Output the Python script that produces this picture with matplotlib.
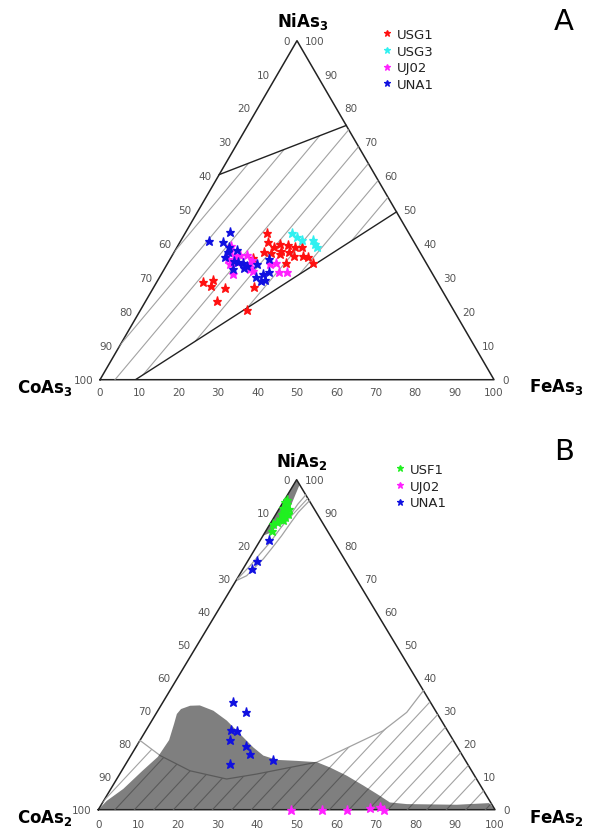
import numpy as np
import matplotlib.pyplot as plt
from matplotlib.patches import Polygon

W, H = 595, 829
S3 = np.sqrt(3) / 2

# compositions in %, (NiAs, FeAs); CoAs is the remainder
# --- panel A (triarsenides)
usg1_ni = [43.2, 40.7, 39.1, 37.6, 37.3, 40.0, 38.1, 39.7, 39.2, 37.6, 36.6, 39.1, 36.6,
           36.1, 34.4, 34.3, 35.9, 27.4, 28.7, 29.5, 27.7, 27.1, 23.2, 20.5, 37.1]
usg1_fe = [20.7, 22.2, 24.5, 22.8, 24.7, 25.7, 26.8, 27.9, 29.9, 29.2, 30.9, 31.7, 33.1,
           34.7, 36.8, 30.0, 20.9, 25.4, 11.8, 13.9, 14.2, 18.2, 18.0, 27.0, 27.2]
usg3_ni = [43.3, 42.0, 41.2, 41.2, 39.1, 40.0]
usg3_fe = [27.1, 28.9, 30.6, 33.5, 35.5, 34.6]
uj02a_ni = [39.5, 37.9, 36.6, 36.8, 36.8, 35.4, 35.6, 34.1, 31.2, 32.7, 32.2, 34.1, 34.3,
            31.9, 31.7, 34.6, 34.4]
uj02a_fe = [13.6, 14.1, 16.0, 17.1, 18.8, 20.8, 14.8, 15.9, 18.1, 21.8, 22.8, 26.2, 27.6,
            29.4, 31.6, 17.4, 20.9]
una1a_ni = [40.8, 43.7, 40.5, 39.1, 38.3, 36.1, 35.1, 32.7, 34.6, 34.4, 33.0, 34.1, 30.2,
            29.2, 29.5, 31.7, 35.6, 37.6, 33.6, 31.2]
una1a_fe = [7.3, 11.2, 11.0, 13.3, 15.6, 13.7, 16.5, 17.4, 17.8, 19.0, 20.0, 22.8, 24.5,
            26.2, 27.1, 27.1, 25.2, 13.8, 20.4, 25.8]
fieldA_ni = [60.5, 0, 0, 49.5, 75]
fieldA_fe = [0, 0, 9, 50.5, 25]

# --- panel B (diarsenides)
usf1_ni = [93.2, 92.6, 91.1, 89.6, 88.6, 89.6, 88.1, 87.1, 86.6, 84.5, 91.3, 90.6, 87.9, 93.9]
usf1_fe = [0.4, 1.2, 2.6, 3.1, 2.8, 1.4, 1.75, 1.45, 0.8, 1.45, 0.95, 2.0, 2.55, 0.65]
uj02b_ni = [0, 0, 0, 0.6, 0.8, 0]
uj02b_fe = [48.6, 56.5, 62.8, 68.3, 70.6, 71.9]
una1b_ni = [81.8, 75.3, 72.9, 32.7, 29.5, 24.2, 23.8, 21.1, 19.2, 16.8, 13.8, 15.1]
una1b_fe = [2.2, 2.45, 2.3, 17.5, 22.5, 21.4, 23.1, 22.6, 27.6, 29.9, 26.3, 36.4]

gray_ni = [0, 2.7, 6.3, 11.7, 16.0, 21.1, 26.0, 29.0, 30.5, 31.5, 31.6, 30.0, 27.0, 22.9,
           18.9, 16.4, 15.1, 14.8, 14.4, 12.8, 10.3, 7.3, 4.2, 2.2, 1.7, 1.5, 2.0, 0]
gray_fe = [0, 0.8, 3.15, 5.2, 7.0, 7.3, 6.1, 5.3, 5.6, 7.4, 9.8, 14.0, 18.9, 24.3, 29.6,
           33.4, 37.4, 42.6, 47.9, 52.0, 57.5, 63.2, 68.9, 72.4, 76.9, 89.6, 97.5, 100]
band_ni = [100, 98.5, 92, 87, 84, 83]
band_fe = [0, 1.5, 2.5, 2.5, 1.5, 0]
curve_ni = [21.0, 16.4, 11.8, 9.3, 10.8, 12.8, 14.4, 18.7, 23.9, 29.5, 36.1]
curve_fe = [0, 7.4, 17.2, 27.7, 34.5, 41.9, 47.9, 53.3, 59.8, 63.0, 63.9]
topU_ni = [95.4, 92.6, 89.1, 85.1, 81.0, 77.5, 73.9, 69.9]
topU_fe = [4.6, 4.0, 3.75, 3.25, 2.8, 2.0, 1.3, 0.1]
topL_ni = [93.6, 92.0, 90.1, 86.6, 83.0, 79.3, 76.0, 73.5, 70.9, 69.6]
topL_fe = [6.4, 5.9, 5.35, 5.0, 4.7, 4.15, 3.6, 2.75, 1.95, 0.3]

ticks = list(range(0, 101, 10))


def xy(ni, fe):
    ni = np.asarray(ni, float) / 100
    fe = np.asarray(fe, float) / 100
    return fe + ni / 2, ni * S3


def place(l, t, r, b):
    return [l / W, 1 - b / H, (r - l) / W, (b - t) / H]


def frame(ax, dy):
    ax.set_xlim(0, 1)
    ax.set_ylim(0, S3)
    ax.axis('off')
    ax.plot([0, 1, 0.5, 0], [0, 0, S3, 0], color='#222222', lw=1.1, clip_on=False)
    kw = dict(textcoords='offset pixels', fontsize=7.5, color='#555555', va='center')
    for t in ticks:
        ax.annotate(str(t), xy(0, t), xytext=(0, -dy), ha='center', **kw)
        ax.annotate(str(t), xy(100 - t, 0), xytext=(-7, 0), ha='right', **kw)
        ax.annotate(str(t), xy(t, 100 - t), xytext=(8, 0), ha='left', **kw)


def hatch(ax, ni, fe, angle, step, start, color='#a2a2a2'):
    patch = Polygon(np.column_stack(xy(ni, fe)), closed=True, fc='none', ec='none')
    ax.add_patch(patch)
    bb = ax.get_position()
    sx, sy = bb.width * W, bb.height * H / S3
    a = np.radians(angle)
    dx, dy = np.cos(a) / sx, np.sin(a) / sy
    L = 900
    for k in range(-45, 45):
        x0 = start + k * step / sx
        ln, = ax.plot([x0 - L * dx, x0 + L * dx], [-L * dy, L * dy], color=color, lw=0.8)
        ln.set_clip_path(patch)


def stars(ax, ni, fe, color, label):
    x, y = xy(ni, fe)
    ax.plot(x, y, '*', color=color, ms=6.5, mew=0.9, label=label, zorder=5, clip_on=False)


def legend(ax, x, y):
    ax.legend(loc='upper left', bbox_to_anchor=(x / W, 1 - y / H), bbox_transform=fig.transFigure,
              frameon=False, fontsize=9.5, handlelength=0.8, handletextpad=0.3, borderpad=0,
              borderaxespad=0, labelspacing=0.28, markerscale=0.7, labelcolor='#222222')


fig = plt.figure(figsize=(W / 100, H / 100), dpi=100)

# ---------------- panel A
axA = fig.add_axes(place(100, 41.7, 494, 380.7))
frame(axA, 12)
hatch(axA, fieldA_ni, fieldA_fe, 50, 24, 0.038)
axA.plot(*xy(fieldA_ni[-1:] + fieldA_ni[:1], fieldA_fe[-1:] + fieldA_fe[:1]), color='#222222', lw=1)
axA.plot(*xy(fieldA_ni[2:4], fieldA_fe[2:4]), color='#222222', lw=1)
stars(axA, usg1_ni, usg1_fe, '#ff1010', 'USG1')
stars(axA, usg3_ni, usg3_fe, '#30f0f0', 'USG3')
stars(axA, uj02a_ni, uj02a_fe, '#ff20ff', 'UJ02')
stars(axA, una1a_ni, una1a_fe, '#1010e0', 'UNA1')
legend(axA, 382, 29)

# ---------------- panel B
axB = fig.add_axes(place(98.3, 480.7, 495, 810.7))
frame(axB, 14)
hatch(axB, curve_ni + [0, 0], curve_fe + [100, 0], 47, 19.5, 0.042)
hatch(axB, topU_ni + topL_ni[::-1], topU_fe + topL_fe[::-1], 47, 19.5, 0.042)
for n, f in [(curve_ni, curve_fe), (topU_ni, topU_fe), (topL_ni, topL_fe)]:
    axB.plot(*xy(n, f), color='#a2a2a2', lw=0.9)
for n, f in [(gray_ni, gray_fe), (band_ni, band_fe)]:
    axB.add_patch(Polygon(np.column_stack(xy(n, f)), closed=True, fc='#2a2a2a', ec='none',
                          alpha=0.6, zorder=3))
stars(axB, usf1_ni, usf1_fe, '#20f020', 'USF1')
stars(axB, uj02b_ni, uj02b_fe, '#ff20ff', 'UJ02')
stars(axB, una1b_ni, una1b_fe, '#1010e0', 'UNA1')
legend(axB, 395, 464)

# corner labels and panel letters
for x, y, s in [(303, 22, r'$\mathbf{NiAs_3}$'), (45, 388, r'$\mathbf{CoAs_3}$'),
                (556, 387, r'$\mathbf{FeAs_3}$'), (302, 462, r'$\mathbf{NiAs_2}$'),
                (45, 818, r'$\mathbf{CoAs_2}$'), (556, 818, r'$\mathbf{FeAs_2}$')]:
    fig.text(x / W, 1 - y / H, s, ha='center', va='center', fontsize=12)
fig.text(564 / W, 1 - 22 / H, 'A', ha='center', va='center', fontsize=21)
fig.text(564 / W, 1 - 452 / H, 'B', ha='center', va='center', fontsize=21)

fig.savefig('out.png', dpi=100)
